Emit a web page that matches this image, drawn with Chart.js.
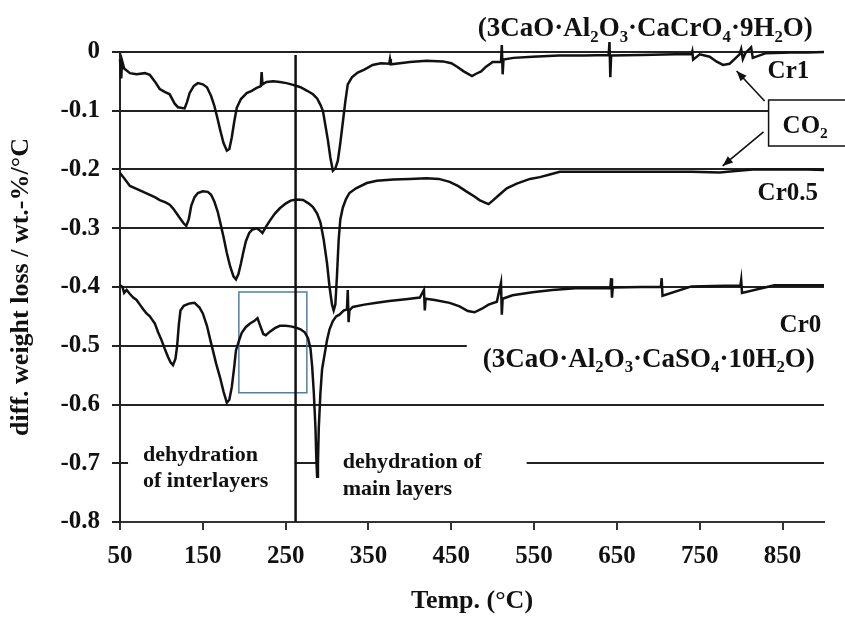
<!DOCTYPE html>
<html>
<head>
<meta charset="utf-8">
<script src="https://cdn.jsdelivr.net/npm/chart.js@4"></script>
<style>
  html, body { margin: 0; padding: 0; background: #fff; }
  #wrap { width: 845px; height: 617px; }
</style>
</head>
<body>
<div id="wrap"><canvas id="dtgChart"></canvas></div>
<script>
// tick values
const xTicks = [50, 150, 250, 350, 450, 550, 650, 750, 850];
const yTicks = [0, -0.1, -0.2, -0.3, -0.4, -0.5, -0.6, -0.7, -0.8];

// Cr1 (3CaO·Al2O3·CaCrO4·9H2O)
const cr1Temp = [50, 51.5, 52.5, 55, 62, 70, 80, 86, 92, 98, 104, 110, 116, 120, 128, 131, 134, 139, 144, 150,
  155, 160, 164, 168, 171, 175, 179, 182, 185, 188, 191, 196, 203, 209, 215, 220, 221, 222, 227, 235,
  243, 251, 259, 268, 276, 283, 288, 292, 295, 298, 301, 304, 307, 310, 313, 316, 319, 322, 325, 330,
  337, 345, 355, 365, 375, 376, 377, 388, 400, 420, 440, 450, 457, 465, 475, 480, 486, 492, 500, 510,
  511, 512, 513, 525, 548, 580, 610, 640, 641, 642, 643, 680, 720, 740, 741, 742, 750, 762, 770, 778,
  786, 792, 798, 800, 802, 805, 812, 814, 830, 860, 880, 900];
const cr1Loss = [-0.012, -0.045, -0.015, -0.028, -0.036, -0.038, -0.036, -0.039, -0.05, -0.063, -0.068, -0.072, -0.088, -0.094, -0.096, -0.085, -0.07, -0.058, -0.053, -0.055,
  -0.06, -0.075, -0.092, -0.115, -0.133, -0.155, -0.168, -0.165, -0.145, -0.118, -0.095, -0.08, -0.07, -0.066, -0.061, -0.058, -0.034, -0.055, -0.051, -0.05,
  -0.051, -0.053, -0.056, -0.06, -0.066, -0.072, -0.079, -0.09, -0.1, -0.125, -0.15, -0.18, -0.202, -0.198, -0.185, -0.155, -0.12, -0.085, -0.055, -0.043,
  -0.035, -0.03, -0.022, -0.019, -0.02, -0.012, -0.021, -0.019, -0.017, -0.015, -0.016, -0.019, -0.025, -0.033, -0.041, -0.037, -0.033, -0.025, -0.017, -0.017,
  0.012, -0.038, -0.013, -0.01, -0.008, -0.006, -0.006, -0.005, 0.017, -0.043, -0.006, -0.005, -0.004, -0.004, 0.001, -0.013, -0.004, -0.008, -0.016, -0.022,
  -0.02, -0.012, -0.004, 0.005, -0.012, -0.002, 0.008, -0.01, -0.002, -0.001, -0.001, 0.0];

// Cr0.5
const cr05Temp = [50, 55, 62, 70, 78, 86, 92, 98, 105, 110, 114, 118, 122, 127, 130, 133, 136, 140, 144, 150,
  156, 160, 164, 168, 171, 175, 179, 183, 187, 190, 193, 196, 199, 202, 206, 210, 215, 219, 222, 226,
  231, 237, 243, 250, 256, 263, 271, 278, 283, 288, 292, 296, 300, 303, 306, 308, 310, 312, 314, 316,
  319, 323, 327, 335, 348, 360, 380, 400, 420, 435, 448, 458, 469, 478, 484, 490, 495, 500, 508, 517,
  529, 545, 557, 570, 581, 620, 660, 700, 740, 774, 790, 814, 850, 880, 900];
const cr05Loss = [-0.206, -0.215, -0.228, -0.233, -0.238, -0.243, -0.247, -0.252, -0.256, -0.26, -0.266, -0.274, -0.282, -0.292, -0.296, -0.285, -0.262, -0.247, -0.24, -0.237,
  -0.238, -0.243, -0.255, -0.272, -0.29, -0.315, -0.342, -0.365, -0.382, -0.387, -0.378, -0.36, -0.34, -0.322, -0.308, -0.302, -0.3, -0.304, -0.308, -0.298,
  -0.287, -0.275, -0.266, -0.258, -0.253, -0.251, -0.252, -0.258, -0.264, -0.275, -0.29, -0.32, -0.36, -0.4, -0.43, -0.44, -0.43, -0.38, -0.32, -0.285,
  -0.265, -0.25, -0.24, -0.232, -0.223, -0.219, -0.217, -0.216, -0.215, -0.216, -0.221, -0.228, -0.238, -0.246, -0.252, -0.256, -0.259, -0.253, -0.243, -0.232,
  -0.224, -0.216, -0.213, -0.208, -0.204, -0.204, -0.204, -0.204, -0.204, -0.205, -0.203, -0.2, -0.2, -0.2, -0.201];

// Cr0 (3CaO·Al2O3·CaSO4·10H2O)
const cr0Temp = [50, 53, 55, 58, 62, 66, 70, 74, 78, 82, 86, 89, 92, 96, 100, 104, 108, 111, 114, 117,
  119, 121, 123, 127, 134, 140, 146, 150, 155, 159, 162, 166, 171, 175, 179, 182, 185, 188, 190, 194,
  197, 202, 207, 212, 216, 219, 223, 226, 231, 237, 243, 250, 256, 262, 268, 273, 277, 280, 282, 284,
  286, 287, 288, 289, 290, 292, 294, 297, 300, 303, 307, 311, 315, 320, 324, 325, 326, 327, 331, 345,
  360, 375, 395, 412, 417, 418, 419, 430, 448, 460, 470, 478, 487, 495, 505, 510, 511, 512, 524, 548,
  572, 600, 642, 643, 644, 645, 680, 703, 704, 705, 740, 780, 799, 800, 801, 840, 870, 900];
const cr0Loss = [-0.397, -0.4, -0.41, -0.405, -0.412, -0.418, -0.422, -0.43, -0.438, -0.445, -0.45, -0.456, -0.462, -0.477, -0.49, -0.505, -0.519, -0.528, -0.533, -0.522,
  -0.5, -0.465, -0.44, -0.432, -0.428, -0.427, -0.435, -0.445, -0.466, -0.49, -0.507, -0.53, -0.555, -0.578, -0.597, -0.592, -0.57, -0.535, -0.508, -0.49,
  -0.478, -0.468, -0.462, -0.458, -0.453, -0.465, -0.48, -0.482, -0.476, -0.47, -0.466, -0.466, -0.467, -0.469, -0.472, -0.477, -0.487, -0.505, -0.535, -0.58,
  -0.64, -0.69, -0.723, -0.7, -0.64, -0.58, -0.54, -0.515, -0.49, -0.472, -0.458, -0.45, -0.447, -0.44, -0.438, -0.405, -0.46, -0.44, -0.434, -0.43,
  -0.427, -0.424, -0.421, -0.418, -0.405, -0.44, -0.42, -0.422, -0.427, -0.433, -0.441, -0.443, -0.437, -0.43, -0.425, -0.393, -0.447, -0.42, -0.414, -0.409,
  -0.405, -0.402, -0.402, -0.385, -0.418, -0.401, -0.4, -0.4, -0.385, -0.415, -0.399, -0.398, -0.398, -0.388, -0.41, -0.397, -0.397, -0.397];

const serif = '"Liberation Serif", "Times New Roman", serif';

function toPoints(temps, losses) {
    return temps.map((t, i) => ({ x: t, y: losses[i] }));
}

// annotation layer: divider, boxes, labels, arrows
const notesPlugin = {
    id: 'notes',
    beforeDatasetsDraw(chart) {
        const { ctx, scales: { x, y } } = chart;
        ctx.save();
        ctx.fillStyle = '#fff';
        // white backgrounds behind the text blocks (cut the grid lines)
        [[59.7, 261, -0.69, -0.71], [287.7, 541, -0.69, -0.71], [468.7, 905, -0.49, -0.51]].forEach(r => {
            const x1 = x.getPixelForValue(r[0]), x2 = x.getPixelForValue(r[1]);
            const y1 = y.getPixelForValue(r[2]), y2 = y.getPixelForValue(r[3]);
            ctx.fillRect(x1, y1, x2 - x1, y2 - y1);
        });
        // blue frame
        ctx.strokeStyle = '#4f7ea6';
        ctx.lineWidth = 1.5;
        const bx1 = x.getPixelForValue(193.5), bx2 = x.getPixelForValue(275.6);
        const by1 = y.getPixelForValue(-0.4085), by2 = y.getPixelForValue(-0.58);
        ctx.strokeRect(bx1, by1, bx2 - bx1, by2 - by1);
        // divider line
        ctx.strokeStyle = '#111';
        ctx.lineWidth = 2.5;
        ctx.beginPath();
        ctx.moveTo(x.getPixelForValue(262), y.getPixelForValue(-0.005));
        ctx.lineTo(x.getPixelForValue(262), y.getPixelForValue(-0.8));
        ctx.stroke();
        ctx.restore();
    },
    afterDatasetsDraw(chart) {
        const { ctx, scales: { x, y } } = chart;
        const px = t => x.getPixelForValue(t);
        const py = v => y.getPixelForValue(v);
        ctx.save();
        ctx.fillStyle = '#111';
        ctx.textAlign = 'left';
        ctx.textBaseline = 'alphabetic';

        function chem(parts, t, v, size) {
            let cx = px(t);
            const cy = py(v);
            parts.forEach(p => {
                const sub = p[1];
                ctx.font = 'bold ' + (sub ? size * 0.62 : size) + 'px ' + serif;
                ctx.fillText(p[0], cx, sub ? cy + size * 0.2 : cy);
                cx += ctx.measureText(p[0]).width;
            });
        }

        chem([['(3CaO·Al', 0], ['2', 1], ['O', 0], ['3', 1], ['·CaCrO', 0], ['4', 1], ['·9H', 0], ['2', 1], ['O)', 0]], 482, 0.027, 27);
        chem([['(3CaO·Al', 0], ['2', 1], ['O', 0], ['3', 1], ['·CaSO', 0], ['4', 1], ['·10H', 0], ['2', 1], ['O)', 0]], 488, -0.536, 27);

        chem([['Cr1', 0]], 831.9, -0.044, 25);
        chem([['Cr0.5', 0]], 819.8, -0.252, 25);
        chem([['Cr0', 0]], 846.4, -0.4766, 25);

        // CO2 box
        ctx.strokeStyle = '#111';
        ctx.lineWidth = 1.5;
        ctx.fillStyle = '#fff';
        ctx.fillRect(px(833.1), py(-0.0817), px(935) - px(833.1), py(-0.16) - py(-0.0817));
        ctx.strokeRect(px(833.1), py(-0.0817), px(935) - px(833.1), py(-0.16) - py(-0.0817));
        ctx.fillStyle = '#111';
        chem([['CO', 0], ['2', 1]], 850, -0.138, 25);

        // arrows
        function arrow(t1, v1, t2, v2) {
            const x1 = px(t1), y1 = py(v1), x2 = px(t2), y2 = py(v2);
            const a = Math.atan2(y2 - y1, x2 - x1);
            ctx.beginPath();
            ctx.moveTo(x1, y1);
            ctx.lineTo(x2, y2);
            ctx.lineWidth = 1.6;
            ctx.stroke();
            ctx.beginPath();
            ctx.moveTo(x2, y2);
            ctx.lineTo(x2 - 11 * Math.cos(a - 0.38), y2 - 11 * Math.sin(a - 0.38));
            ctx.lineTo(x2 - 11 * Math.cos(a + 0.38), y2 - 11 * Math.sin(a + 0.38));
            ctx.closePath();
            ctx.fill();
        }
        arrow(828.3, -0.0834, 794.5, -0.0323);
        arrow(827, -0.136, 777.6, -0.194);

        // region notes
        ctx.font = 'bold 22px ' + serif;
        ctx.fillText('dehydration', px(77.8), py(-0.696));
        ctx.fillText('of interlayers', px(77.8), py(-0.740));
        ctx.fillText('dehydration of', px(319), py(-0.708));
        ctx.fillText('main layers', px(319), py(-0.754));
        ctx.restore();
    }
};

const lineStyle = {
    borderColor: '#111',
    borderWidth: 2.5,
    pointRadius: 0,
    tension: 0,
    fill: false,
    clip: 20
};

new Chart(document.getElementById('dtgChart'), {
    type: 'line',
    data: {
        datasets: [
            Object.assign({ label: 'Cr1', data: toPoints(cr1Temp, cr1Loss) }, lineStyle),
            Object.assign({ label: 'Cr0.5', data: toPoints(cr05Temp, cr05Loss) }, lineStyle),
            Object.assign({ label: 'Cr0', data: toPoints(cr0Temp, cr0Loss) }, lineStyle)
        ]
    },
    options: {
        responsive: true,
        maintainAspectRatio: false,
        animation: false,
        devicePixelRatio: 1,
        layout: { padding: { top: 52, right: 21, left: 0, bottom: 0 } },
        plugins: {
            legend: { display: false },
            tooltip: { enabled: false }
        },
        scales: {
            x: {
                type: 'linear',
                min: 50,
                max: 900,
                afterBuildTicks: axis => { axis.ticks = xTicks.map(v => ({ value: v })); },
                afterFit: axis => { axis.height = 95; },
                ticks: {
                    color: '#111',
                    padding: 12,
                    maxRotation: 0,
                    font: { family: serif, size: 25, weight: 'bold' }
                },
                grid: { drawOnChartArea: false, tickLength: 8, color: '#333', lineWidth: 2 },
                border: { color: '#333', width: 2 },
                title: {
                    display: true,
                    text: 'Temp. (°C)',
                    color: '#111',
                    padding: { top: 0, bottom: 0 },
                    font: { family: serif, size: 26, weight: 'bold' }
                }
            },
            y: {
                min: -0.8,
                max: 0,
                afterBuildTicks: axis => { axis.ticks = yTicks.map(v => ({ value: v })); },
                afterFit: axis => { axis.width = 120; },
                ticks: {
                    color: '#111',
                    padding: 12,
                    font: { family: serif, size: 25, weight: 'bold' },
                    callback: v => (v === 0 ? '0' : v.toFixed(1))
                },
                grid: { tickLength: 8, color: '#222', lineWidth: 2 },
                border: { color: '#222', width: 2 },
                title: {
                    display: true,
                    text: 'diff. weight loss / wt.-%/°C',
                    color: '#111',
                    padding: { top: 6, bottom: 0 },
                    font: { family: serif, size: 26, weight: 'bold' }
                }
            }
        }
    },
    plugins: [notesPlugin]
});
</script>
</body>
</html>
